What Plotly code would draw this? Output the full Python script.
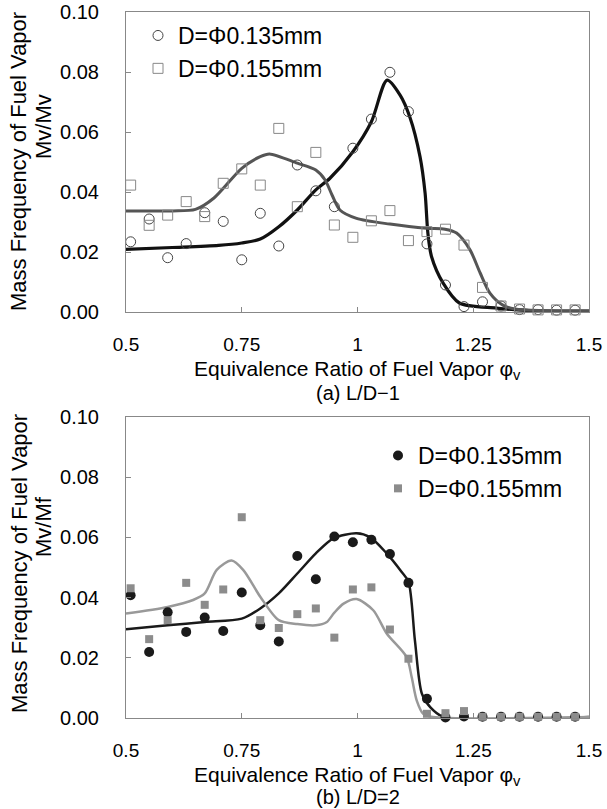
import plotly.graph_objects as go

# ---- data ----
phi = [0.51, 0.55, 0.59, 0.63, 0.67, 0.71, 0.75, 0.79, 0.83, 0.87, 0.91, 0.95, 0.99,
       1.03, 1.07, 1.11, 1.15, 1.19, 1.23, 1.27, 1.31, 1.35, 1.39, 1.43, 1.47]

a_d135 = [0.0234, 0.0310, 0.0181, 0.0228, 0.0331, 0.0302, 0.0174, 0.0329, 0.0220, 0.0490,
          0.0404, 0.0351, 0.0546, 0.0643, 0.0799, 0.0668, 0.0227, 0.0090, 0.0018, 0.0034,
          0.0020, 0.0008, 0.0008, 0.0006, 0.0006]
a_d155 = [0.0423, 0.0289, 0.0323, 0.0368, 0.0318, 0.0429, 0.0477, 0.0423, 0.0612, 0.0351,
          0.0532, 0.0290, 0.0249, 0.0304, 0.0338, 0.0238, 0.0268, 0.0276, 0.0223, 0.0082,
          0.0020, 0.0010, 0.0007, 0.0007, 0.0007]

b_d135 = [0.0408, 0.0219, 0.0351, 0.0286, 0.0334, 0.0289, 0.0417, 0.0308, 0.0254, 0.0538,
          0.0461, 0.0603, 0.0584, 0.0592, 0.0545, 0.0449, 0.0064, 0.0002, 0.0005, 0.0004,
          0.0004, 0.0004, 0.0004, 0.0004, 0.0004]
b_d155 = [0.0431, 0.0262, 0.0325, 0.0449, 0.0376, 0.0427, 0.0667, 0.0325, 0.0299, 0.0345,
          0.0364, 0.0267, 0.0427, 0.0434, 0.0294, 0.0197, 0.0014, 0.0016, 0.0023, 0.0004,
          0.0004, 0.0004, 0.0004, 0.0004, 0.0004]

# fitted curves
a_fit135_x = [0.50, 0.60, 0.70, 0.75, 0.79, 0.83, 0.87, 0.91, 0.94, 0.99, 1.03, 1.064,
              1.092, 1.113, 1.135, 1.146, 1.152, 1.16, 1.185, 1.22, 1.30, 1.37, 1.50]
a_fit135_y = [0.0209, 0.0215, 0.0222, 0.0230, 0.0243, 0.0284, 0.0340, 0.0407, 0.0445, 0.0534,
              0.0634, 0.0773, 0.0723, 0.0650, 0.0518, 0.0396, 0.0263, 0.0184, 0.0096, 0.0030,
              0.0013, 0.0005, 0.0003]
a_fit155_x = [0.50, 0.60, 0.65, 0.69, 0.75, 0.79, 0.81, 0.87, 0.91, 0.93, 0.945, 0.962, 0.998,
              1.07, 1.149, 1.189, 1.214, 1.243, 1.265, 1.286, 1.314, 1.34, 1.50]
a_fit155_y = [0.0337, 0.0337, 0.0342, 0.0380, 0.0479, 0.0518, 0.0527, 0.0496, 0.0473, 0.0440,
              0.0390, 0.0340, 0.0312, 0.0293, 0.0279, 0.0276, 0.0263, 0.0207, 0.0130, 0.0063,
              0.0023, 0.0010, 0.0003]

b_fit135_x = [0.50, 0.59, 0.67, 0.75, 0.79, 0.83, 0.87, 0.91, 0.948, 0.998, 1.027, 1.063,
              1.095, 1.110, 1.124, 1.139, 1.157, 1.186, 1.50]
b_fit135_y = [0.0295, 0.0308, 0.0319, 0.0330, 0.0364, 0.0414, 0.0480, 0.0547, 0.0597, 0.0614,
              0.0601, 0.0547, 0.0486, 0.0453, 0.0258, 0.0081, 0.0036, 0.0003, 0.0003]
b_fit155_x = [0.50, 0.59, 0.645, 0.67, 0.696, 0.728, 0.753, 0.79, 0.83, 0.87, 0.91, 0.933,
              0.95, 0.97, 0.998, 1.034, 1.063, 1.106, 1.117, 1.128, 1.142, 1.163, 1.50]
b_fit155_y = [0.0347, 0.0369, 0.0392, 0.0414, 0.0492, 0.0523, 0.0492, 0.0403, 0.0325, 0.0312,
              0.0308, 0.0318, 0.0350, 0.0380, 0.0395, 0.0358, 0.0281, 0.0203, 0.0136, 0.0058,
              0.0014, 0.0003, 0.0003]

x_ticks = [0.5, 0.75, 1.0, 1.25, 1.5]
x_ticktext = ["0.5", "0.75", "1", "1.25", "1.5"]
y_ticks = [0.0, 0.02, 0.04, 0.06, 0.08, 0.10]

FONT = "Liberation Sans, Arial, sans-serif"

fig = go.Figure()

# ---- top panel ----
fig.add_trace(go.Scatter(x=a_fit135_x, y=a_fit135_y, mode="lines", showlegend=False,
                         line=dict(color="#111111", width=3.2, shape="spline", smoothing=0.8),
                         xaxis="x", yaxis="y", hoverinfo="skip"))
fig.add_trace(go.Scatter(x=a_fit155_x, y=a_fit155_y, mode="lines", showlegend=False,
                         line=dict(color="#555555", width=3, shape="spline", smoothing=0.8),
                         xaxis="x", yaxis="y", hoverinfo="skip"))
fig.add_trace(go.Scatter(x=phi, y=a_d135, mode="markers", name="D=Φ0.135mm",
                         marker=dict(symbol="circle-open", size=10, color="#444444",
                                     line=dict(width=1)),
                         xaxis="x", yaxis="y", cliponaxis=False, legend="legend"))
fig.add_trace(go.Scatter(x=phi, y=a_d155, mode="markers", name="D=Φ0.155mm",
                         marker=dict(symbol="square-open", size=10, color="#888888",
                                     line=dict(width=1)),
                         xaxis="x", yaxis="y", cliponaxis=False, legend="legend"))

# ---- bottom panel ----
fig.add_trace(go.Scatter(x=b_fit135_x, y=b_fit135_y, mode="lines", showlegend=False,
                         line=dict(color="#1a1a1a", width=2.5, shape="spline", smoothing=0.8),
                         xaxis="x2", yaxis="y2", hoverinfo="skip"))
fig.add_trace(go.Scatter(x=b_fit155_x, y=b_fit155_y, mode="lines", showlegend=False,
                         line=dict(color="#999999", width=2.5, shape="spline", smoothing=0.8),
                         xaxis="x2", yaxis="y2", hoverinfo="skip"))
fig.add_trace(go.Scatter(x=phi, y=b_d135, mode="markers", name="D=Φ0.135mm",
                         marker=dict(symbol="circle", size=10, color="#1a1a1a"),
                         xaxis="x2", yaxis="y2", cliponaxis=False, legend="legend2"))
fig.add_trace(go.Scatter(x=phi, y=b_d155, mode="markers", name="D=Φ0.155mm",
                         marker=dict(symbol="square", size=8, color="#8c8c8c"),
                         xaxis="x2", yaxis="y2", cliponaxis=False, legend="legend2"))

axis_common = dict(showline=True, mirror=True, linecolor="#888888", linewidth=1,
                   showgrid=False, zeroline=False, ticks="inside", ticklen=5,
                   tickcolor="#888888", automargin=False, ticklabeloverflow="allow",
                   tickfont=dict(family=FONT, size=20, color="#000"))

xa = dict(axis_common, range=[0.5, 1.5], tickvals=x_ticks, ticktext=x_ticktext,
          ticklabelstandoff=15, tickfont=dict(family=FONT, size=19, color="#000"))
ya = dict(axis_common, range=[0, 0.1], tickvals=y_ticks, tickformat=".2f",
          ticklabelstandoff=22)

W, H = 607, 809
PL, PR, PT, PB = 126, 589, 12, 718          # plot box in page pixels
L, R, T, B = PL, W - PR, PT, H - PB
pw, ph = W - L - R, H - T - B


def px2x(px):
    return (px - PL) / pw


def py2y(py):
    return (PB - py) / ph


legend_font = dict(family=FONT, size=23, color="#000")

fig.update_layout(
    width=W, height=H,
    margin=dict(l=L, r=R, t=T, b=B, autoexpand=False),
    paper_bgcolor="white", plot_bgcolor="white",
    font=dict(family=FONT, size=20, color="#000"),
    xaxis=dict(xa, domain=[0, 1], anchor="y"),
    yaxis=dict(ya, domain=[py2y(312), 1], anchor="x"),
    xaxis2=dict(xa, domain=[0, 1], anchor="y2"),
    yaxis2=dict(ya, domain=[0, py2y(417)], anchor="x2"),
    legend=dict(x=px2x(138), y=py2y(14), xanchor="left", yanchor="top",
                font=legend_font, bgcolor="rgba(0,0,0,0)", tracegroupgap=0),
    legend2=dict(x=px2x(378), y=py2y(434), xanchor="left", yanchor="top",
                 font=legend_font, bgcolor="rgba(0,0,0,0)", tracegroupgap=0),
)

annots = [
    dict(text="Equivalence Ratio of Fuel Vapor φ<sub>v</sub>", x=0.5, y=py2y(370), size=21),
    dict(text="(a) L/D−1", x=0.5, y=py2y(393), size=20),
    dict(text="Equivalence Ratio of Fuel Vapor φ<sub>v</sub>", x=0.5, y=py2y(776), size=21),
    dict(text="(b) L/D=2", x=0.5, y=py2y(797), size=20),
    dict(text="Mass Frequency of Fuel Vapor", x=px2x(19), y=py2y(162), textangle=-90, size=22),
    dict(text="Mv/Mv", x=px2x(43), y=py2y(127), textangle=-90, size=22),
    dict(text="Mass Frequency of Fuel Vapor", x=px2x(19), y=py2y(564), textangle=-90, size=22),
    dict(text="Mv/Mf", x=px2x(43), y=py2y(527), textangle=-90, size=22),
]
for a in annots:
    sz = a.pop("size")
    fig.add_annotation(xref="paper", yref="paper", showarrow=False,
                       xanchor="center", yanchor="middle",
                       font=dict(family=FONT, size=sz, color="#000"), **a)

fig.write_html("out.html", config={"displayModeBar": False},
               post_script="document.body.style.margin='0';document.body.style.padding='0';")
